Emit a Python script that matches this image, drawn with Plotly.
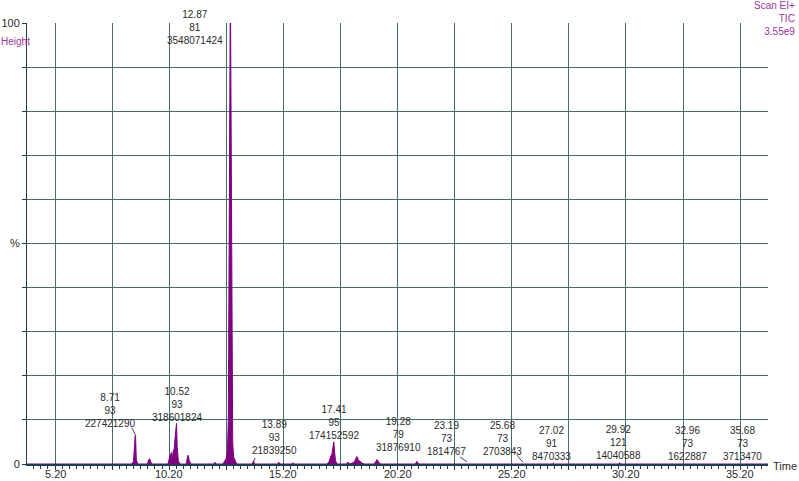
import plotly.graph_objects as go

# ---- data ----
times = [3.97, 8.55, 8.64, 8.68, 8.71, 8.73, 8.76, 8.82,
         9.25, 9.30, 9.34, 9.40, 9.46,
         10.15, 10.22, 10.30, 10.34, 10.38, 10.42, 10.46, 10.50, 10.52, 10.55, 10.60,
         10.66, 10.95, 11.00, 11.03, 11.08, 11.15,
         12.15, 12.20, 12.26, 12.55, 12.62, 12.70, 12.75, 12.79, 12.81, 12.83, 12.85,
         12.87, 12.89, 12.91, 12.93, 12.95, 12.98, 13.02, 13.06, 13.12, 13.18,
         13.84, 13.89, 13.94, 14.95, 15.00, 15.05, 15.57, 15.62, 15.67,
         17.10, 17.20, 17.28, 17.33, 17.37, 17.41, 17.44, 17.48, 17.55,
         17.95, 18.03, 18.10, 18.30, 18.38, 18.42, 18.48, 18.56, 18.65, 18.75,
         19.18, 19.25, 19.30, 19.36, 19.45,
         20.98, 21.05, 21.12, 23.15, 23.19, 23.23, 25.64, 25.68, 25.72,
         26.98, 27.02, 27.06, 29.88, 29.92, 29.96, 32.92, 32.96, 33.00,
         35.64, 35.68, 35.72, 36.42]
intensity = [0, 0, 0.6, 4.5, 6.4, 5.8, 1.0, 0,
             0, 0.9, 1.2, 0.4, 0,
             0, 1.6, 2.6, 1.2, 3.0, 3.5, 6.0, 9.0, 9.2, 4.0, 0.8,
             0, 0, 1.6, 2.0, 0.8, 0,
             0, 0.4, 0, 0, 0.6, 1.3, 3.0, 10.0, 33.0, 60.0, 92.0,
             100.0, 100.0, 80.0, 45.0, 18.0, 5.0, 1.6, 1.0, 0.4, 0,
             0, 0.7, 0, 0, 0.4, 0, 0, 0.3, 0,
             0, 0.5, 1.8, 2.3, 3.8, 5.0, 3.0, 0.8, 0,
             0, 0.4, 0, 0.4, 1.4, 1.7, 0.9, 0.5, 0.2, 0,
             0, 0.6, 1.0, 0.5, 0,
             0, 0.6, 0, 0, 0.1, 0, 0, 0.1, 0,
             0, 0.2, 0, 0, 0.3, 0, 0, 0.1, 0,
             0, 0.1, 0, 0]

# peak labels: retention time, base mass, area
peak_rt = ["12.87", "8.71", "10.52", "13.89", "17.41", "19.28", "23.19", "25.68",
           "27.02", "29.92", "32.96", "35.68"]
peak_mass = ["81", "93", "93", "93", "95", "79", "73", "73", "91", "121", "73", "73"]
peak_area = ["3548071424", "227421290", "318601824", "21839250", "174152592", "31876910",
             "1814767", "2703843", "8470333", "14040588", "1622887", "3713470"]
label_x = [11.33, 7.61, 10.54, 14.83, 17.42, 20.26, 22.36, 24.81, 26.96, 29.89, 32.91, 35.32]
label_y = [98.9, 12.2, 13.4, 6.1, 9.3, 6.8, 5.7, 5.7, 4.6, 4.8, 4.6, 4.6]

# leader lines from label to peak
leader_x0 = [8.57, 13.96, 22.93, 25.43]
leader_y0 = [8.2, 1.4, 1.6, 2.0]
leader_x1 = [8.75, 13.87, 23.24, 25.69]
leader_y1 = [6.3, 0.2, 0.5, 0.4]

x_tickvals = [5.2 + 2.5 * k for k in range(13)]
x_labelvals = [5.2, 10.2, 15.2, 20.2, 25.2, 30.2, 35.2]
x_labeltext = ["5.20", "10.20", "15.20", "20.20", "25.20", "30.20", "35.20"]
y_tickvals = list(range(0, 101, 10))
y_ticktext = ["0", "", "", "", "", "%", "", "", "", "", "100"]

PURPLE = "#800080"
LABEL_PURPLE = "#993399"
GRID = "#456d6d"
AXIS = "#1e3c58"
TEXT = "#2a2a2a"
FONT = "Liberation Sans, Arial, sans-serif"

fig = go.Figure()
fig.add_trace(go.Scatter(x=times, y=intensity, mode="lines", fill="tozeroy",
                         line=dict(color=PURPLE, width=1), fillcolor=PURPLE,
                         hoverinfo="skip", showlegend=False))

for rt, m, a, lx, ly in zip(peak_rt, peak_mass, peak_area, label_x, label_y):
    fig.add_annotation(x=lx, y=ly, xref="x", yref="y", text=f"{rt}<br>{m}<br>{a}",
                       showarrow=False, xanchor="center", yanchor="middle", align="center",
                       font=dict(family=FONT, size=10, color=TEXT))

for x0, y0, x1, y1 in zip(leader_x0, leader_y0, leader_x1, leader_y1):
    fig.add_shape(type="line", x0=x0, y0=y0, x1=x1, y1=y1, xref="x", yref="y",
                  line=dict(color="#444444", width=1))

# x tick labels placed just under the axis
for v, t in zip(x_labelvals, x_labeltext):
    fig.add_annotation(x=v, y=0, xref="x", yref="paper", text=t, showarrow=False,
                       xanchor="center", yanchor="top", yshift=-2,
                       font=dict(family=FONT, size=11, color=TEXT))

fig.add_annotation(x=-0.0155, y=0.957, xref="paper", yref="paper", text="Height",
                   showarrow=False, xanchor="center", yanchor="middle",
                   font=dict(family=FONT, size=10, color=LABEL_PURPLE))
fig.add_annotation(x=1.039, y=1.011, xref="paper", yref="paper",
                   text="Scan EI+<br>TIC<br>3.55e9", showarrow=False,
                   xanchor="right", yanchor="middle", align="right",
                   font=dict(family=FONT, size=10, color=LABEL_PURPLE))
fig.add_annotation(x=1.004, y=-0.005, xref="paper", yref="paper", text="Time",
                   showarrow=False, xanchor="left", yanchor="middle",
                   font=dict(family=FONT, size=11, color=TEXT))

fig.update_layout(
    width=799, height=481,
    margin=dict(l=27, r=31, t=23, b=17, autoexpand=False),
    paper_bgcolor="white", plot_bgcolor="white",
    font=dict(family=FONT, size=11, color=TEXT),
    xaxis=dict(range=[3.974, 36.42], tickvals=x_tickvals, showticklabels=False,
               automargin=False,
               showgrid=True, gridcolor=GRID, gridwidth=1, zeroline=False,
               showline=True, linecolor=AXIS, linewidth=2,
               ticks="outside", ticklen=4, tickcolor=AXIS,
               minor=dict(ticks="outside", ticklen=3, tickcolor=AXIS,
                          tick0=5.2, dtick=0.3125, showgrid=False)),
    yaxis=dict(range=[0, 100], tickvals=y_tickvals, ticktext=y_ticktext,
               automargin=False,
               showgrid=True, gridcolor=GRID, gridwidth=1, zeroline=False,
               showline=True, linecolor=AXIS, linewidth=1,
               ticks="outside", ticklen=4, tickcolor=AXIS, tickfont=dict(size=11)),
)

fig.write_html("out.html", config={"displayModeBar": False},
               post_script="document.body.style.margin='0';document.body.style.overflow='hidden';")
